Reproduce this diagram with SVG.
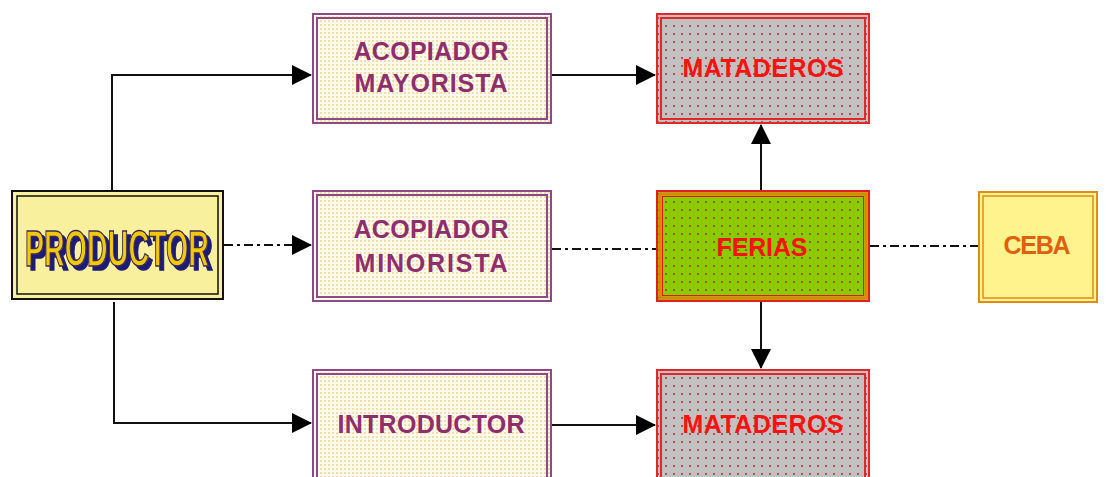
<svg xmlns="http://www.w3.org/2000/svg" width="1106" height="477" viewBox="0 0 1106 477">
<style>
.lbl{font-family:"Liberation Sans",Arial,sans-serif;font-weight:bold;font-size:25px;text-anchor:middle}
.acop{fill:#8E2E6E}
.mat{fill:#FF1010}
.con{fill:none;stroke:#111;stroke-width:2}
.dd{stroke-dasharray:9,4,3,4}
.acopB{stroke:#8E4A86;stroke-width:2}
.matB{stroke:#E02828;stroke-width:2}
.cream{fill:url(#pCream)}
.gray{fill:url(#pGray)}
.nf{fill:none}
</style>
<defs>
<pattern id="pCream" width="4" height="4" patternUnits="userSpaceOnUse">
<rect width="4" height="4" fill="#FFFBEA"/>
<circle cx="1" cy="1" r="0.8" fill="#E8B868"/>
</pattern>
<pattern id="pGray" width="8" height="8" patternUnits="userSpaceOnUse">
<rect width="8" height="8" fill="#C2C0C0"/>
<circle cx="2" cy="2" r="1" fill="#B03030"/>
</pattern>
<pattern id="pGreen" width="8" height="8" patternUnits="userSpaceOnUse">
<rect width="8" height="8" fill="#8CCB00"/>
<circle cx="2" cy="2" r="1" fill="#904010"/>
</pattern>
<filter id="shadow" x="-10%" y="-20%" width="130%" height="150%">
<feDropShadow dx="4" dy="4" stdDeviation="0" flood-color="#1E1E78" flood-opacity="1"/>
</filter>
<marker id="arr" markerWidth="20" markerHeight="20" refX="19" refY="10" orient="auto" markerUnits="userSpaceOnUse">
<path d="M0,0 L20,10 L0,20 z" fill="#000"/>
</marker>
</defs>
<rect width="1106" height="477" fill="#FFFFFF"/>

<g id="connectors">
<path class="con" d="M112,190 V75 H311" marker-end="url(#arr)"/>
<path class="con dd" d="M224,245 H311" marker-end="url(#arr)"/>
<path class="con" d="M114,302 V423 H311" marker-end="url(#arr)"/>
<path class="con" d="M552,75 H655" marker-end="url(#arr)"/>
<path class="con dd" d="M552,249 H656"/>
<path class="con" d="M761,190 V125" marker-end="url(#arr)"/>
<path class="con" d="M761,302 V368" marker-end="url(#arr)"/>
<path class="con dd" d="M870,246 H978"/>
<path class="con" d="M551,425 H655" marker-end="url(#arr)"/>
</g>

<g id="productor">
<rect x="12" y="191" width="211" height="108" fill="#F8F09C" stroke="#111" stroke-width="2"/>
<rect x="17" y="196" width="201" height="98" fill="none" stroke="#111" stroke-width="1.5"/>
<text x="117" y="266" font-family="'Liberation Sans',Arial,sans-serif" font-weight="bold" font-size="50" text-anchor="middle" textLength="184" lengthAdjust="spacingAndGlyphs" fill="#F2C810" stroke="#3A2A50" stroke-width="1.5" filter="url(#shadow)">PRODUCTOR</text>
</g>

<g id="acopiador-mayorista">
<rect x="313" y="14" width="238" height="109" class="acopB cream"/>
<rect x="317" y="18" width="230" height="101" class="acopB nf" stroke-width="1.5"/>
<text class="lbl acop" x="431" y="60" textLength="155">ACOPIADOR</text>
<text class="lbl acop" x="431" y="92" textLength="153">MAYORISTA</text>
</g>

<g id="mataderos-top">
<rect x="657" y="14" width="212" height="109" class="matB gray"/>
<rect x="661" y="18" width="204" height="101" class="matB nf" stroke-width="1.5"/>
<text class="lbl mat" x="763" y="77" textLength="161">MATADEROS</text>
</g>

<g id="acopiador-minorista">
<rect x="313" y="191" width="238" height="110" class="acopB cream"/>
<rect x="317" y="195" width="230" height="102" class="acopB nf" stroke-width="1.5"/>
<text class="lbl acop" x="431" y="238" textLength="155">ACOPIADOR</text>
<text class="lbl acop" x="431" y="272" textLength="153">MINORISTA</text>
</g>

<g id="ferias">
<rect x="657" y="191" width="212" height="110" fill="url(#pGreen)" stroke="#E02020" stroke-width="2"/>
<rect x="660" y="194" width="206" height="104" fill="none" stroke="#E88010" stroke-width="3"/>
<rect x="662.5" y="196.5" width="201" height="99" fill="none" stroke="#D02010" stroke-width="1"/>
<text class="lbl mat" x="762" y="256" textLength="91">FERIAS</text>
</g>

<g id="ceba">
<rect x="979" y="192" width="118" height="110" fill="#FFF38E" stroke="#E08A20" stroke-width="2"/>
<rect x="983" y="196" width="110" height="102" fill="none" stroke="#E08A20" stroke-width="1.5"/>
<text class="lbl" x="1037" y="254" textLength="67" fill="#E06010">CEBA</text>
</g>

<g id="introductor">
<rect x="313" y="370" width="238" height="108" class="acopB cream"/>
<rect x="317" y="374" width="230" height="104" class="acopB nf" stroke-width="1.5"/>
<text class="lbl acop" x="431" y="433" textLength="187">INTRODUCTOR</text>
</g>

<g id="mataderos-bottom">
<rect x="657" y="370" width="212" height="108" class="matB gray"/>
<rect x="661" y="374" width="204" height="104" class="matB nf" stroke-width="1.5"/>
<text class="lbl mat" x="763" y="433" textLength="161">MATADEROS</text>
</g>
</svg>
